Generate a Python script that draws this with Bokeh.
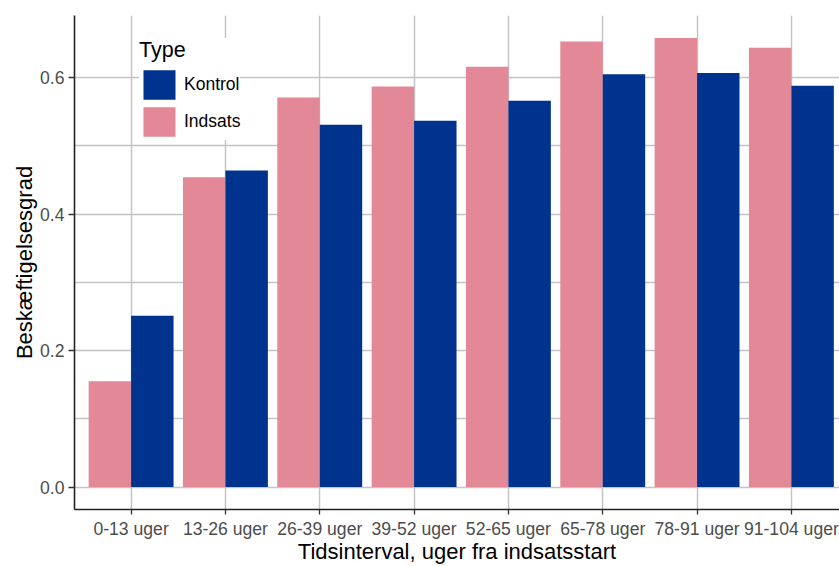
from bokeh.plotting import figure
from bokeh.models import (ColumnDataSource, Range1d, FixedTicker, PrintfTickFormatter,
                          Legend, LegendItem)
from bokeh.transform import dodge
from bokeh.embed import file_html
from bokeh.resources import INLINE

categories = ["0-13 uger", "13-26 uger", "26-39 uger", "39-52 uger",
              "52-65 uger", "65-78 uger", "78-91 uger", "91-104 uger"]
indsats = [0.155, 0.454, 0.571, 0.587, 0.616, 0.653, 0.658, 0.644]
kontrol = [0.251, 0.464, 0.531, 0.537, 0.566, 0.605, 0.607, 0.588]
y_ticks = [0.0, 0.2, 0.4, 0.6]
y_minor = [0.1, 0.3, 0.5]

PINK = "#E38896"
NAVY = "#00338D"
FONT = "Liberation Sans"

idx = list(range(1, len(categories) + 1))
src = ColumnDataSource(dict(idx=idx, cat=categories, indsats=indsats, kontrol=kontrol))

p = figure(width=839, height=566, output_backend="svg", toolbar_location=None,
           x_range=Range1d(0.4, 8.51), y_range=Range1d(-0.0329, 0.6911),
           min_border_left=74, min_border_right=0, min_border_top=15, min_border_bottom=56)
p.outline_line_color = None
p.background_fill_color = "white"
p.border_fill_color = "white"

r_i = p.vbar(x=dodge("idx", -0.225, range=p.x_range), top="indsats", width=0.45,
             source=src, fill_color=PINK, line_color=None)
r_k = p.vbar(x=dodge("idx", 0.225, range=p.x_range), top="kontrol", width=0.45,
             source=src, fill_color=NAVY, line_color=None)

# axes
p.xaxis.ticker = FixedTicker(ticks=idx)
p.xaxis.major_label_overrides = {i: c for i, c in zip(idx, categories)}
p.yaxis.ticker = FixedTicker(ticks=y_ticks, minor_ticks=y_minor)
p.yaxis.formatter = PrintfTickFormatter(format="%.1f")
p.xaxis.axis_label = "Tidsinterval, uger fra indsatsstart"
p.yaxis.axis_label = "Beskæftigelsesgrad"

for ax in (p.xaxis, p.yaxis):
    ax.axis_line_color = "#222222"
    ax.axis_line_width = 1.6
    ax.major_tick_line_color = "#333333"
    ax.major_tick_line_width = 1.3
    ax.major_tick_in = 0
    ax.major_tick_out = 5
    ax.minor_tick_line_color = None
    ax.major_label_text_font = FONT
    ax.major_label_text_font_size = "17.6px"
    ax.major_label_text_color = "#4D4D4D"
    ax.axis_label_text_font = FONT
    ax.axis_label_text_font_size = "22px"
    ax.axis_label_text_font_style = "normal"
    ax.axis_label_text_color = "black"
p.xaxis.major_label_standoff = 4
p.xaxis.axis_label_standoff = -3
p.yaxis.major_tick_out = 6
p.yaxis.major_label_standoff = 4
p.yaxis.axis_label_standoff = 0

p.xgrid.ticker = FixedTicker(ticks=idx)
p.ygrid.ticker = FixedTicker(ticks=y_ticks, minor_ticks=y_minor)
for g in (p.xgrid, p.ygrid):
    g.grid_line_color = "#C4C4C4"
    g.grid_line_width = 1.5
p.ygrid.minor_grid_line_color = "#C4C4C4"
p.ygrid.minor_grid_line_width = 1.5

legend = Legend(items=[LegendItem(label="Kontrol", renderers=[r_k]),
                       LegendItem(label="Indsats", renderers=[r_i])],
                location=(65, 369), title="Type")
legend.title_text_font = FONT
legend.title_text_font_size = "21.5px"
legend.title_text_font_style = "normal"
legend.title_text_color = "black"
legend.title_standoff = 3
legend.label_text_font = FONT
legend.label_text_font_size = "17.5px"
legend.label_text_color = "black"
legend.glyph_width = 40
legend.glyph_height = 37
legend.spacing = 0
legend.padding = 11
legend.margin = 0
legend.label_standoff = 5
legend.background_fill_color = "white"
legend.background_fill_alpha = 1.0
legend.border_line_color = None
p.add_layout(legend, "center")

open("out.html", "w").write(file_html(p, INLINE))
